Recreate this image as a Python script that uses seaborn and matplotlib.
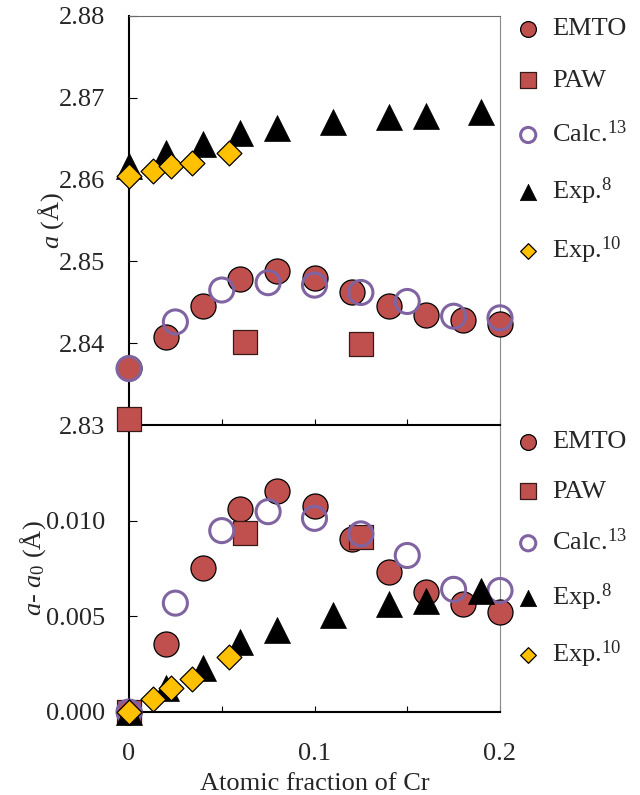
import matplotlib
matplotlib.use("Agg")
import matplotlib.pyplot as plt
import seaborn as sns
from matplotlib.ticker import FixedLocator, FuncFormatter

sns.set_style("ticks")
plt.rcParams["font.family"] = ["Liberation Serif", "DejaVu Serif"]
plt.rcParams["mathtext.fontset"] = "custom"
plt.rcParams["mathtext.rm"] = "Liberation Serif"
plt.rcParams["mathtext.it"] = "Liberation Serif:italic"
plt.rcParams["font.size"] = 19

# ---- lattice parameter a (Å) ----
emto_x = [0.0, 0.02, 0.04, 0.06, 0.08, 0.10, 0.12, 0.14, 0.16, 0.18, 0.20]
emto_a = [2.8370, 2.8407, 2.8446, 2.8478, 2.8488, 2.8480, 2.8463, 2.8445, 2.8434, 2.8428, 2.8424]
paw_x = [0.0, 0.0625, 0.125]
paw_a = [2.8307, 2.8401, 2.8399]
calc13_x = [0.0, 0.025, 0.05, 0.075, 0.10, 0.125, 0.15, 0.175, 0.20]
calc13_a = [2.8369, 2.8426, 2.8465, 2.8474, 2.8471, 2.8462, 2.8451, 2.8433, 2.8431]
exp8_x = [0.0, 0.02, 0.04, 0.06, 0.08, 0.11, 0.14, 0.16, 0.19]
exp8_a = [2.8617, 2.8633, 2.8643, 2.8657, 2.8663, 2.8671, 2.8677, 2.8678, 2.8683]
exp10_x = [0.0, 0.013, 0.0226, 0.0341, 0.0539]
exp10_a = [2.8604, 2.8610, 2.8617, 2.8620, 2.8633]

# ---- change relative to pure Fe, a - a0 (Å) ----
emto_da = [0.0, 0.00354, 0.00752, 0.01061, 0.01156, 0.01078, 0.00904, 0.00731, 0.00627, 0.00566, 0.00523]
paw_da = [0.0, 0.00934, 0.00917]
calc13_da = [0.0, 0.00569, 0.00948, 0.01047, 0.01012, 0.00931, 0.00818, 0.00641, 0.00635]
exp8_da = [0.0, 0.00127, 0.00231, 0.00368, 0.00429, 0.00509, 0.00566, 0.00580, 0.00630]
exp10_da = [0.0, 0.00066, 0.00123, 0.00172, 0.00285]

labels = ["EMTO", "PAW", r"Calc.$^{13}$", r"Exp.$^{8}$", r"Exp.$^{10}$"]

RED = "#C0504D"
PURPLE = "#8064A2"
GOLD = "#FFC000"

fig = plt.figure(figsize=(6.4, 7.95), dpi=100)
fig.patch.set_facecolor("white")
ax_top = fig.add_axes([129 / 640, 1 - 425 / 795, 371 / 640, 409 / 795])
ax_bot = fig.add_axes([129 / 640, 1 - 712 / 795, 371 / 640, 287 / 795])
ax_top.set_zorder(2)
for ax in (ax_top, ax_bot):
    ax.patch.set_visible(False)


def draw_series(ax, ys):
    common = dict(ax=ax, clip_on=False, legend=False)
    sns.scatterplot(x=emto_x, y=ys[0], marker="o", s=325, color=RED,
                    edgecolor="black", linewidth=0.9, zorder=3, label=labels[0], **common)
    sns.scatterplot(x=paw_x, y=ys[1], marker="s", s=310, color=RED,
                    edgecolor="#3a1a18", linewidth=0.9, zorder=4, label=labels[1], **common)
    sns.scatterplot(x=calc13_x, y=ys[2], marker="o", s=300, facecolor="none",
                    edgecolor=PURPLE, linewidth=2.2, zorder=5, label=labels[2], **common)
    sns.scatterplot(x=exp8_x, y=ys[3], marker="^", s=350, color="black",
                    edgecolor="black", linewidth=0.5, zorder=6, label=labels[3], **common)
    sns.scatterplot(x=exp10_x, y=ys[4], marker="D", s=160, color=GOLD,
                    edgecolor="black", linewidth=0.9, zorder=7, label=labels[4], **common)


draw_series(ax_top, [emto_a, paw_a, calc13_a, exp8_a, exp10_a])
draw_series(ax_bot, [emto_da, paw_da, calc13_da, exp8_da, exp10_da])

for ax in (ax_top, ax_bot):
    ax.set_xlim(0, 0.2)
    ax.xaxis.set_major_locator(FixedLocator([0.0, 0.1, 0.2]))
    ax.xaxis.set_minor_locator(FixedLocator([0.05, 0.15]))
    ax.tick_params(axis="x", which="both", direction="in", length=4.5, width=0.8,
                   color="black", pad=22, labelsize=19)
    ax.tick_params(axis="y", which="both", direction="in", length=5.5, width=0.8,
                   color="black", pad=17, labelsize=19)
    ax.spines["left"].set_color("black")
    ax.spines["left"].set_linewidth(1.5)
    ax.spines["bottom"].set_color("black")
    ax.spines["bottom"].set_linewidth(1.5)
    ax.spines["right"].set_color("#8a8a8a")
    ax.spines["right"].set_linewidth(0.8)
    ax.spines["top"].set_color("#6a6a6a")
    ax.spines["top"].set_linewidth(0.8)

ax_bot.spines["top"].set_visible(False)

ax_top.set_ylim(2.83, 2.88)
ax_top.yaxis.set_major_locator(FixedLocator([2.83, 2.84, 2.85, 2.86, 2.87, 2.88]))
ax_top.yaxis.set_major_formatter(FuncFormatter(lambda v, p: f"{v:.2f}"))
ax_top.tick_params(axis="x", labelbottom=False)
ax_top.set_xlabel("")
ax_top.set_ylabel(r"$a$ (Å)", fontsize=19, labelpad=-5)

ax_bot.set_ylim(0.0, 0.015)
ax_bot.yaxis.set_major_locator(FixedLocator([0.0, 0.005, 0.010]))
ax_bot.yaxis.set_major_formatter(FuncFormatter(lambda v, p: f"{v:.3f}"))
ax_bot.xaxis.set_major_formatter(FuncFormatter(lambda v, p: "0" if abs(v) < 1e-9 else f"{v:.1f}"))
ax_bot.set_xlabel("Atomic fraction of Cr", fontsize=19, labelpad=6)
ax_bot.set_ylabel(r"$a$- $a_0$ (Å)", fontsize=19, labelpad=-1)

legend_kw = dict(loc="upper left", frameon=False, markerscale=0.63, handlelength=1.0,
                 handletextpad=0.4, borderpad=0, borderaxespad=0, fontsize=19,
                 bbox_transform=fig.transFigure)
h, l = ax_top.get_legend_handles_labels()
ax_top.legend(h, l, bbox_to_anchor=(515 / 640, 1 - 17 / 795), labelspacing=1.07, **legend_kw)
h, l = ax_bot.get_legend_handles_labels()
ax_bot.legend(h, l, bbox_to_anchor=(515 / 640, 1 - 430 / 795), labelspacing=0.98, **legend_kw)

fig.savefig("out.png", dpi=100, facecolor="white")
